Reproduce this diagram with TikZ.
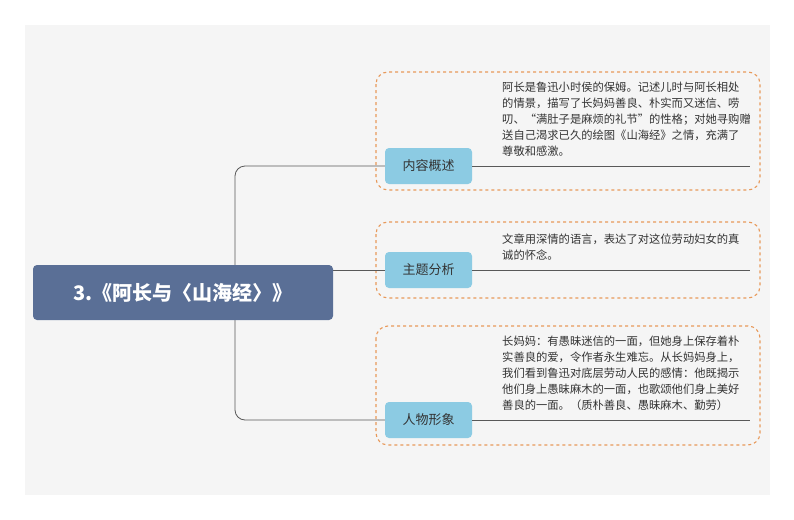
\documentclass[tikz,border=0pt]{standalone}
\usepackage{fontspec}
\newfontfamily\cjk{Noto Sans CJK SC}
\begin{document}
\begin{tikzpicture}[x=1pt,y=-1pt,
  conn/.style={draw=gray!70!black,line width=0.8pt,rounded corners=10pt},
  sub/.style={fill=cblue,rounded corners=4pt,minimum width=87pt,minimum height=36pt,font=\cjk\fontsize{13}{15}\selectfont,text=black!80},
  dbox/.style={draw=corange,dashed,line width=1.1pt,rounded corners=12pt},
  desc/.style={anchor=north west,align=left,font=\cjk\fontsize{11.3}{16}\selectfont,text=black!80,inner sep=0pt}]
\definecolor{cblue}{HTML}{8CCBE3}
\definecolor{corange}{HTML}{E8995A}
\definecolor{cmain}{HTML}{5A6F96}
\useasboundingbox (0,0) rectangle (794,519);
\fill[white] (0,0) rectangle (794,519);
\fill[black!4] (25,25) rectangle (770,495);
\draw[dbox] (376,72) rectangle (760,190);
\draw[dbox] (376,222) rectangle (760,298);
\draw[dbox] (376,326) rectangle (760,445);
\node[sub] (b1) at (428.5,166) {内容概述};
\node[sub] (b2) at (428.5,270) {主题分析};
\node[sub] (b3) at (428.5,420) {人物形象};
\coordinate (t1) at (235,166);
\coordinate (t3) at (235,420);
\draw[conn] (b1.west) -- (t1) -- (t3) -- (b3.west);
\draw[conn] (235,270) -- (b2.west);
\coordinate (e1) at (750,166);
\coordinate (e2) at (750,270);
\coordinate (e3) at (750,420);
\draw[conn] (b1.east) -- (e1);
\draw[conn] (b2.east) -- (e2);
\draw[conn] (b3.east) -- (e3);
\node[fill=cmain,rounded corners=4pt,minimum width=300pt,minimum height=55pt,text=white,font=\cjk\bfseries\fontsize{20}{24}\selectfont] (m) at (183,292.5) {3.《阿长与〈山海经〉》};
\node[desc] (d1) at (502,82) {阿长是鲁迅小时侯的保姆。记述儿时与阿长相处\\的情景，描写了长妈妈善良、朴实而又迷信、唠\\叨、“满肚子是麻烦的礼节”的性格；对她寻购赠\\送自己渴求已久的绘图《山海经》之情，充满了\\尊敬和感激。};
\node[desc] (d2) at (502,234) {文章用深情的语言，表达了对这位劳动妇女的真\\诚的怀念。};
\node[desc] (d3) at (502,336) {长妈妈：有愚昧迷信的一面，但她身上保存着朴\\实善良的爱，令作者永生难忘。从长妈妈身上，\\我们看到鲁迅对底层劳动人民的感情：他既揭示\\他们身上愚昧麻木的一面，也歌颂他们身上美好\\善良的一面。（质朴善良、愚昧麻木、勤劳）};
\end{tikzpicture}
\end{document}
